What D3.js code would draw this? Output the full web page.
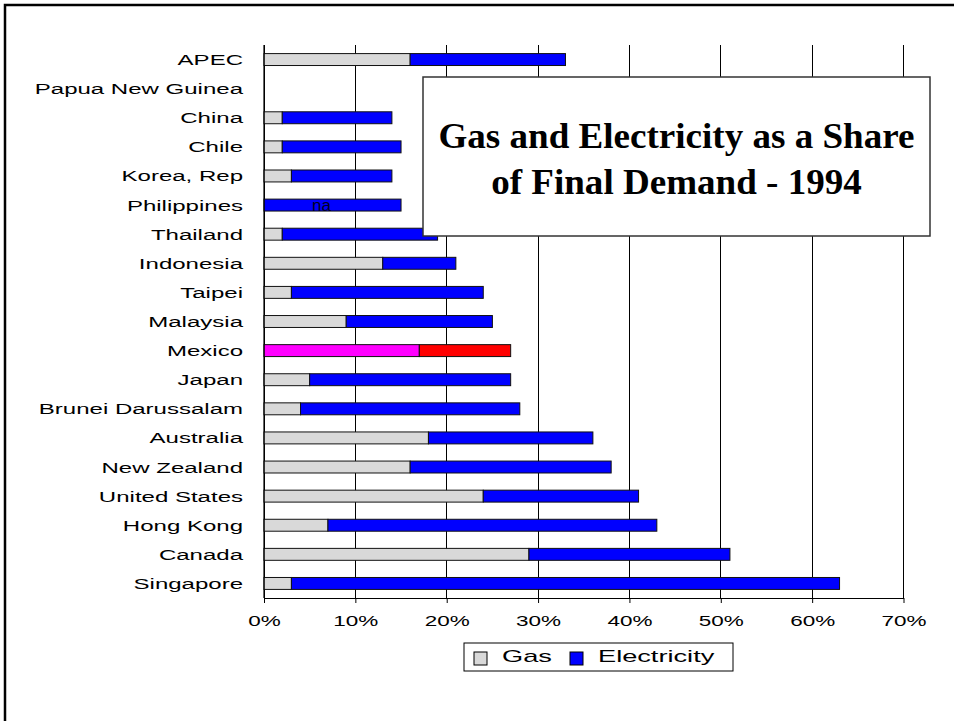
<!DOCTYPE html>
<html>
<head>
<meta charset="utf-8">
<script src="https://cdn.jsdelivr.net/npm/d3@7"></script>
<style>
  html, body { margin: 0; padding: 0; background: #fff; }
  svg { display: block; }
</style>
</head>
<body>
<div id="chart"></div>
<script>
// Economies, top to bottom as drawn.
const economies = [
  'APEC', 'Papua New Guinea', 'China', 'Chile', 'Korea, Rep', 'Philippines',
  'Thailand', 'Indonesia', 'Taipei', 'Malaysia', 'Mexico', 'Japan',
  'Brunei Darussalam', 'Australia', 'New Zealand', 'United States',
  'Hong Kong', 'Canada', 'Singapore',
];
// Shares of final demand (fraction); null = not available.
const gasShare = [
  0.16, null, 0.02, 0.02, 0.03, null,
  0.02, 0.13, 0.03, 0.09, 0.17, 0.05,
  0.04, 0.18, 0.16, 0.24,
  0.07, 0.29, 0.03,
];
const electricityShare = [
  0.17, null, 0.12, 0.13, 0.11, 0.15,
  0.17, 0.08, 0.21, 0.16, 0.10, 0.22,
  0.24, 0.18, 0.22, 0.17,
  0.36, 0.22, 0.60,
];
const tickValues = [0, 0.1, 0.2, 0.3, 0.4, 0.5, 0.6, 0.7];
const seriesNames = ['Gas', 'Electricity'];
const naLabels = ['Philippines'];

const width = 954;
const height = 721;
const plot = { left: 264, right: 903.5, top: 45, bottom: 598 };
const sans = '"Liberation Sans", Arial, sans-serif';
const serif = '"Liberation Serif", "Times New Roman", serif';

const colours = { Gas: '#d9d9d9', Electricity: '#0000ff' };
// Mexico is drawn in its own colours in the original.
const mexicoColours = { Gas: '#ff00ff', Electricity: '#ff0000' };

const rows = economies.map((name, i) => ({
  name, Gas: gasShare[i], Electricity: electricityShare[i],
}));

const svg = d3.select('#chart').append('svg')
  .attr('width', width)
  .attr('height', height);

// Outer frame (only left and top edges are inside the picture)
svg.append('path')
  .attr('d', `M5,${height} V5 H${width}`)
  .attr('fill', 'none')
  .attr('stroke', '#000')
  .attr('stroke-width', 2.5);

const x = d3.scaleLinear().domain([0, 0.7]).range([plot.left, plot.right]);
const y = d3.scaleBand()
  .domain(economies)
  .range([plot.top, plot.bottom])
  .paddingInner(0.59)
  .paddingOuter(0.295);

// Vertical gridlines
svg.append('g')
  .selectAll('line')
  .data(tickValues)
  .join('line')
  .attr('x1', d => x(d))
  .attr('x2', d => x(d))
  .attr('y1', plot.top)
  .attr('y2', plot.bottom)
  .attr('stroke', '#000')
  .attr('stroke-width', 1)
  .attr('shape-rendering', 'crispEdges');

// Stacked bars
const stack = d3.stack()
  .keys(seriesNames)
  .value((d, key) => d[key] || 0);
const series = stack(rows);

svg.append('g')
  .selectAll('g')
  .data(series)
  .join('g')
  .each(function (s) {
    d3.select(this).selectAll('rect')
      .data(s.filter(d => d[1] - d[0] > 0))
      .join('rect')
      .attr('x', d => x(d[0]))
      .attr('y', d => y(d.data.name))
      .attr('width', d => x(d[1]) - x(d[0]))
      .attr('height', y.bandwidth())
      .attr('fill', d => (d.data.name === 'Mexico' ? mexicoColours : colours)[s.key])
      .attr('stroke', '#111')
      .attr('stroke-width', 1);
  });

// "na" marker for missing gas data
svg.append('g')
  .selectAll('text')
  .data(naLabels)
  .join('text')
  .attr('x', x(0.063))
  .attr('y', d => y(d) + y.bandwidth() / 2 + 6)
  .attr('text-anchor', 'middle')
  .style('font-family', sans)
  .style('font-size', '17px')
  .style('fill', '#000022')
  .text('na');

// Y axis line
svg.append('line')
  .attr('x1', plot.left).attr('x2', plot.left)
  .attr('y1', plot.top).attr('y2', plot.bottom)
  .attr('stroke', '#000')
  .attr('stroke-width', 1.2);

// Category labels (the original font is drawn wide)
svg.append('g')
  .selectAll('text')
  .data(economies)
  .join('text')
  .attr('transform', d => `translate(243,${y(d) + y.bandwidth() / 2 + 5.5}) scale(1.55,1)`)
  .attr('text-anchor', 'end')
  .style('font-family', sans)
  .style('font-size', '15.5px')
  .style('fill', '#000')
  .text(d => d);

// X axis
const xAxis = svg.append('g')
  .attr('transform', `translate(0,${plot.bottom})`)
  .call(d3.axisBottom(x)
    .tickValues(tickValues)
    .tickFormat(d3.format('.0%'))
    .tickSize(5)
    .tickSizeOuter(0));
xAxis.select('.domain').attr('stroke', '#000').attr('stroke-width', 1.2);
xAxis.selectAll('.tick line').attr('stroke', '#000');
xAxis.selectAll('.tick text')
  .attr('y', 0)
  .attr('dy', null)
  .attr('transform', 'translate(0,28) scale(1.5,1)')
  .style('font-family', sans)
  .style('font-size', '15px')
  .style('fill', '#000');

// Title box
const titleBox = { x: 423, y: 77, w: 507, h: 159 };
svg.append('rect')
  .attr('x', titleBox.x)
  .attr('y', titleBox.y)
  .attr('width', titleBox.w)
  .attr('height', titleBox.h)
  .attr('fill', '#fff')
  .attr('stroke', '#333')
  .attr('stroke-width', 1.5);

const titleLines = ['Gas and Electricity as a Share', 'of Final Demand - 1994'];
svg.append('g')
  .selectAll('text')
  .data(titleLines)
  .join('text')
  .attr('transform', (d, i) => `translate(${titleBox.x + titleBox.w / 2},${148 + i * 46}) scale(1.03,1)`)
  .attr('text-anchor', 'middle')
  .style('font-family', serif)
  .style('font-weight', 'bold')
  .style('font-size', '36px')
  .style('fill', '#000')
  .text(d => d);

// Legend
const legend = svg.append('g');
legend.append('rect')
  .attr('x', 464).attr('y', 643)
  .attr('width', 269).attr('height', 28)
  .attr('fill', '#fff')
  .attr('stroke', '#000')
  .attr('stroke-width', 1);

const legendX = [474, 570];
const legendItems = legend.selectAll('g.item')
  .data(seriesNames)
  .join('g')
  .attr('class', 'item')
  .attr('transform', (d, i) => `translate(${legendX[i]},652)`);

legendItems.append('rect')
  .attr('width', 13).attr('height', 13)
  .attr('fill', d => colours[d])
  .attr('stroke', '#000')
  .attr('stroke-width', 1);

legendItems.append('text')
  .attr('transform', 'translate(28,9.5) scale(1.7,1)')
  .style('font-family', sans)
  .style('font-size', '16px')
  .style('fill', '#000')
  .text(d => d);
</script>
</body>
</html>
